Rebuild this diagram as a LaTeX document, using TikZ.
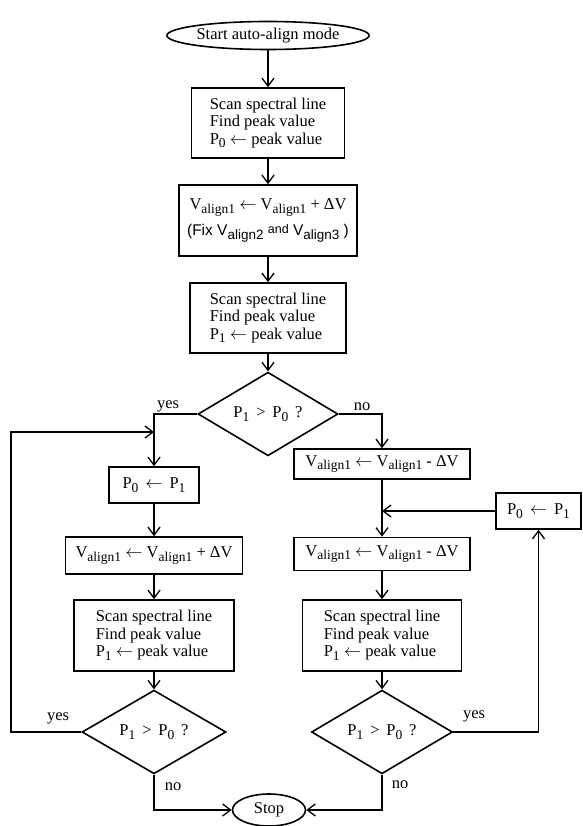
\documentclass[tikz,border=0pt]{standalone}
\usepackage{fontspec}
\setmainfont{Liberation Serif}
\newfontfamily\sansf{Liberation Sans}
\usetikzlibrary{shapes.geometric,arrows.meta}
\newcommand{\mysub}[1]{\raisebox{-3.5pt}{\fontsize{13.5}{13.5}\selectfont #1}}
\newcommand{\myla}{\ensuremath{\leftarrow}}
\begin{document}
\begin{tikzpicture}[x=1pt,y=-1pt,
  every node/.style={font=\fontsize{16.5}{17.5}\selectfont},
  box/.style={draw, rectangle, line width=1.6pt, inner sep=0pt, align=left},
  cbox/.style={draw, rectangle, line width=1.6pt, inner sep=0pt, align=center},
  dec/.style={draw, diamond, line width=1.6pt, inner sep=0pt},
  term/.style={draw, ellipse, line width=1.6pt, inner sep=0pt},
  lbl/.style={inner sep=0pt, anchor=base},
  arr/.style={line width=1.5pt, -{Straight Barb[length=8pt,width=12pt,line width=1.3pt]}}]
\useasboundingbox (0,0) rectangle (582,826);
% centre column
\node[term, minimum width=176pt, minimum height=28pt] (start) at (268,35.5) {Start auto-align mode};
\node[box, minimum width=153pt, minimum height=70pt] (b1) at (268,123) {Scan spectral line\\Find peak value\\P\mysub{0} \myla{} peak value};
\node[cbox, minimum width=178pt, minimum height=71pt] (b2) at (268,220.5) {V\mysub{align1} \myla{} V\mysub{align1} + ΔV\\[7pt]{\sansf\fontsize{15.5}{15.5}\selectfont (Fix V\mysub{align2} \raisebox{2pt}{\fontsize{12.5}{12.5}\selectfont and} V\mysub{align3} )}};
\node[box, minimum width=156pt, minimum height=70pt] (b3) at (268,318) {Scan spectral line\\Find peak value\\P\mysub{1} \myla{} peak value};
\node[dec, minimum width=140pt, minimum height=68pt] (d1) at (268,414) {P\mysub{1}~\,>~\,P\mysub{0}~\,?};
% left column
\node[cbox, minimum width=90pt, minimum height=36pt] (l1) at (154,485) {P\mysub{0}~\,\myla~\,P\mysub{1}};
\node[cbox, minimum width=177pt, minimum height=37pt] (l2) at (154,555.5) {V\mysub{align1} \myla{} V\mysub{align1} + ΔV};
\node[box, minimum width=160pt, minimum height=71pt] (l3) at (154,635.5) {Scan spectral line\\Find peak value\\P\mysub{1} \myla{} peak value};
\node[dec, minimum width=144pt, minimum height=70pt] (d2) at (154,732) {P\mysub{1}~\,>~\,P\mysub{0}~\,?};
% right column
\node[cbox, minimum width=176pt, minimum height=30pt] (r1) at (382,464) {V\mysub{align1} \myla{} V\mysub{align1} - ΔV};
\node[cbox, minimum width=85pt, minimum height=36pt] (rp) at (538.5,511) {P\mysub{0}~\,\myla~\,P\mysub{1}};
\node[cbox, minimum width=176pt, minimum height=33pt] (r2) at (382,554) {V\mysub{align1} \myla{} V\mysub{align1} - ΔV};
\node[box, minimum width=159pt, minimum height=71pt] (r3) at (382,635.5) {Scan spectral line\\Find peak value\\P\mysub{1} \myla{} peak value};
\node[dec, minimum width=141pt, minimum height=70pt] (d3) at (382,732) {P\mysub{1}~\,>~\,P\mysub{0}~\,?};
% stop
\node[term, minimum width=73pt, minimum height=32pt] (stop) at (269,810) {Stop};
% labels
\node[lbl] (yes1) at (168,408) {yes};
\node[lbl] (no1) at (362,410) {no};
\node[lbl] (yes2) at (58,720) {yes};
\node[lbl] (no2) at (173,790) {no};
\node[lbl] (yes3) at (474,718) {yes};
\node[lbl] (no3) at (400,788) {no};
\coordinate (lj) at (154,432);
% connectors
\draw[arr] (start) -- (b1);
\draw[arr] (b1) -- (b2);
\draw[arr] (b2) -- (b3);
\draw[arr] (b3) -- (d1);
\draw[arr] (d1.west) -| (l1.north);
\draw[arr] (d1.east) -| (r1.north);
\draw[arr] (l1) -- (l2);
\draw[arr] (l2) -- (l3);
\draw[arr] (l3) -- (d2);
\draw[arr] (d2.west) -- ++(-70,0) |- (lj);
\draw[arr] (r1) -- (r2);
\draw[arr] (rp.west) -- (rp.west -| r1.south);
\draw[arr] (r2) -- (r3);
\draw[arr] (r3) -- (d3);
\draw[arr] (d3.east) -| (rp.south);
\draw[arr] (d2.south) |- (stop.west);
\draw[arr] (d3.south) |- (stop.east);
\end{tikzpicture}
\end{document}
